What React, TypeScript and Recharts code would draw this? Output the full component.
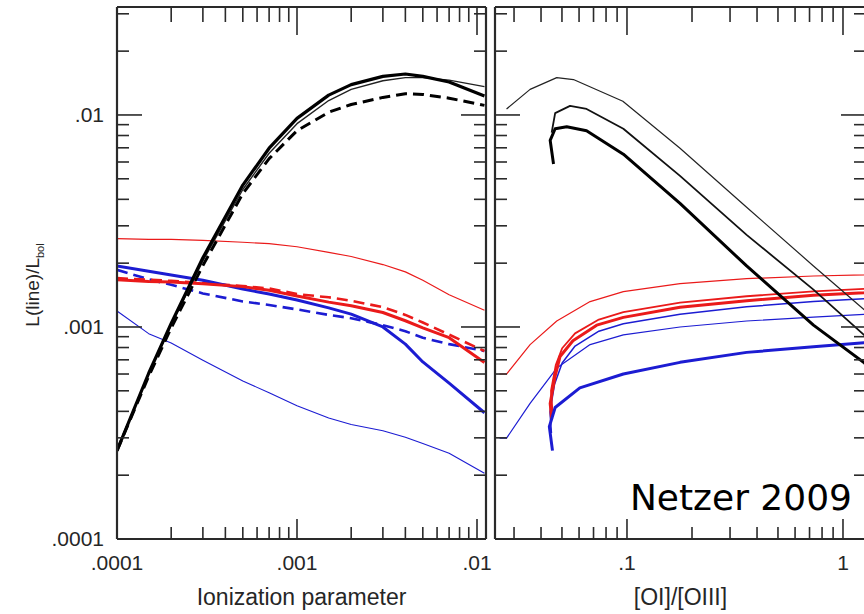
import React from 'react';
import { LineChart, Line, XAxis, YAxis } from 'recharts';

// ---------- Left panel: luminosity ratio vs ionization parameter ----------
const uValues = [1e-4, 1.5e-4, 2e-4, 3e-4, 5e-4, 7e-4, 1e-3, 1.5e-3, 2e-3, 3e-3, 4e-3, 5e-3, 7e-3, 1.1e-2];
const blackThickL = [2.61e-4, 6.05e-4, 1.04e-3, 2.12e-3, 4.67e-3, 6.97e-3, 9.64e-3, 1.24e-2, 1.39e-2, 1.52e-2, 1.56e-2, 1.52e-2, 1.43e-2, 1.23e-2];
const blackThinL = [2.65e-4, 6.0e-4, 1.02e-3, 2.05e-3, 4.45e-3, 6.6e-3, 9.1e-3, 1.17e-2, 1.32e-2, 1.45e-2, 1.5e-2, 1.5e-2, 1.46e-2, 1.36e-2];
const blackDashL = [2.61e-4, 5.86e-4, 9.9e-4, 1.95e-3, 4.26e-3, 6.22e-3, 8.43e-3, 1.03e-2, 1.12e-2, 1.21e-2, 1.26e-2, 1.25e-2, 1.2e-2, 1.11e-2];
const redThinL = [2.61e-3, 2.59e-3, 2.59e-3, 2.56e-3, 2.51e-3, 2.47e-3, 2.39e-3, 2.25e-3, 2.15e-3, 1.97e-3, 1.82e-3, 1.66e-3, 1.42e-3, 1.2e-3];
const redThickL = [1.67e-3, 1.64e-3, 1.63e-3, 1.6e-3, 1.55e-3, 1.49e-3, 1.4e-3, 1.31e-3, 1.26e-3, 1.17e-3, 1.07e-3, 9.9e-4, 8.9e-4, 6.8e-4];
const redDashL = [1.7e-3, 1.67e-3, 1.65e-3, 1.61e-3, 1.56e-3, 1.52e-3, 1.43e-3, 1.38e-3, 1.33e-3, 1.24e-3, 1.14e-3, 1.05e-3, 9.2e-4, 7.7e-4];
const blueThickL = [1.94e-3, 1.83e-3, 1.76e-3, 1.66e-3, 1.51e-3, 1.43e-3, 1.34e-3, 1.23e-3, 1.15e-3, 1.0e-3, 8.3e-4, 6.84e-4, 5.43e-4, 3.94e-4];
const blueDashL = [1.86e-3, 1.68e-3, 1.58e-3, 1.44e-3, 1.32e-3, 1.27e-3, 1.21e-3, 1.14e-3, 1.1e-3, 1.02e-3, 9.55e-4, 8.9e-4, 8.3e-4, 7.7e-4];
const blueThinL = [1.19e-3, 9.3e-4, 8.4e-4, 6.97e-4, 5.56e-4, 4.9e-4, 4.25e-4, 3.72e-4, 3.47e-4, 3.24e-4, 3.02e-4, 2.82e-4, 2.54e-4, 2.04e-4];

// ---------- Right panel: luminosity ratio vs [OI]/[OIII] ----------
const blackThinRx = [0.0277, 0.0356, 0.0473, 0.0565, 0.0957, 0.176, 0.358, 0.73, 1.25, 1.35];
const blackThinRy = [0.01067, 0.0132, 0.015, 0.01469, 0.01161, 0.00697, 0.00367, 0.00194, 0.00121, 0.00113];
const blackMedRx = [0.0448, 0.0465, 0.0545, 0.065, 0.0962, 0.176, 0.358, 0.73, 1.25, 1.35];
const blackMedRy = [0.00826, 0.0102, 0.01104, 0.01067, 0.00861, 0.00516, 0.00272, 0.0015, 0.000918, 0.000857];
const blackThickRx = [0.0457, 0.0441, 0.0465, 0.0526, 0.065, 0.0962, 0.176, 0.358, 0.73, 1.25, 1.35];
const blackThickRy = [0.00587, 0.00759, 0.00861, 0.00879, 0.00843, 0.00653, 0.00383, 0.00194, 0.00102, 0.00068, 0.00063];
const redThinRx = [0.0257, 0.0277, 0.0356, 0.0473, 0.0675, 0.0962, 0.176, 0.358, 0.73, 1.25, 1.35];
const redThinRy = [0.0006, 0.0006, 0.000826, 0.001067, 0.001318, 0.001469, 0.0016, 0.00169, 0.00174, 0.00176, 0.00177];
const blueThinRx = [0.0257, 0.0277, 0.0356, 0.0473, 0.0675, 0.0962, 0.176, 0.358, 0.73, 1.25, 1.35];
const blueThinRy = [0.000299, 0.000299, 0.000436, 0.00064, 0.000826, 0.000918, 0.001, 0.001067, 0.001112, 0.001146, 0.001148];
const redThickRx = [0.0448, 0.0441, 0.0465, 0.049, 0.0562, 0.0724, 0.0962, 0.176, 0.358, 0.73, 1.25, 1.35];
const redThickRy = [0.000367, 0.000436, 0.000587, 0.000726, 0.000861, 0.00102, 0.00111, 0.00124, 0.00133, 0.00141, 0.00145, 0.00146];
const redMedRx = [0.0452, 0.0445, 0.0468, 0.0501, 0.0575, 0.0741, 0.0962, 0.176, 0.358, 0.73, 1.25, 1.35];
const redMedRy = [0.000398, 0.000501, 0.000661, 0.000794, 0.000933, 0.001084, 0.001175, 0.001303, 0.001396, 0.001472, 0.001514, 0.00152];
const blueMedRx = [0.0447, 0.044, 0.0462, 0.0501, 0.0575, 0.0741, 0.0962, 0.176, 0.358, 0.73, 1.25, 1.35];
const blueMedRy = [0.000316, 0.000398, 0.000537, 0.000676, 0.000813, 0.000955, 0.001035, 0.001148, 0.001245, 0.001318, 0.001358, 0.001365];
const blueThickRx = [0.0452, 0.0437, 0.0465, 0.0605, 0.0962, 0.176, 0.358, 0.73, 1.25, 1.35];
const blueThickRy = [0.000261, 0.000339, 0.000417, 0.000516, 0.0006, 0.000681, 0.000759, 0.000807, 0.000843, 0.000849];

// ---------- Axes ----------
const yDomain: [number, number] = [1e-4, 0.0323];
const leftXDomain: [number, number] = [1e-4, 0.01122];
const rightXDomain: [number, number] = [0.02449, 1.278];
const yTicks = [1e-4, 2e-4, 3e-4, 4e-4, 5e-4, 6e-4, 7e-4, 8e-4, 9e-4, 1e-3, 2e-3, 3e-3, 4e-3, 5e-3, 6e-3, 7e-3, 8e-3, 9e-3, 1e-2, 2e-2, 3e-2];
const leftXTicks = [1e-4, 2e-4, 3e-4, 4e-4, 5e-4, 6e-4, 7e-4, 8e-4, 9e-4, 1e-3, 2e-3, 3e-3, 4e-3, 5e-3, 6e-3, 7e-3, 8e-3, 9e-3, 1e-2];
const rightXTicks = [0.03, 0.04, 0.05, 0.06, 0.07, 0.08, 0.09, 0.1, 0.2, 0.3, 0.4, 0.5, 0.6, 0.7, 0.8, 0.9, 1];
const yTickLabels = ['.0001', '.001', '.01'];
const leftXTickLabels = ['.0001', '.001', '.01'];
const rightXTickLabels = ['.1', '1'];

const zip = (xs: number[], ys: number[]) => xs.map((x, i) => ({ x, y: ys[i] }));

const FONT = '"Liberation Sans", Arial, sans-serif';
const AXIS_COLOR = '#2a2a2a';
const TEXT_COLOR = '#262626';
const RED = '#ea1a1a';
const BLUE = '#1c1cd2';

const isMajor = (v: number) => Math.abs(Math.log10(v) - Math.round(Math.log10(v))) < 1e-6;
const labelFor = (v: number, labels: string[]) => labels.find((l) => Math.abs(parseFloat(l) - v) < v * 1e-6);

type Side = 'bottom' | 'top' | 'left' | 'right';

const makeTick = (side: Side, labels: string[] | null, majorLen: number, minorLen: number) => (props: any) => {
  const { x, y, payload } = props;
  const v = payload.value as number;
  const major = isMajor(v);
  const len = major ? majorLen : minorLen;
  let x2 = x, y2 = y;
  if (side === 'bottom') y2 = y - len;
  if (side === 'top') y2 = y + len;
  if (side === 'left') x2 = x + len;
  if (side === 'right') x2 = x - len;
  const lab = labels && major ? labelFor(v, labels) : undefined;
  return (
    <g>
      <line x1={x} y1={y} x2={x2} y2={y2} stroke={AXIS_COLOR} strokeWidth={1.6} />
      {lab && side === 'bottom' && (
        <text x={x} y={y + 31} textAnchor="middle" fontFamily={FONT} fontSize={21} fill={TEXT_COLOR}>{lab}</text>
      )}
      {lab && side === 'left' && (
        <text x={x - 13} y={y + 7} textAnchor="end" fontFamily={FONT} fontSize={21} fill={TEXT_COLOR}>{lab}</text>
      )}
    </g>
  );
};

const XTitle = (text: string) => (props: any) => {
  const vb = props.viewBox || {};
  return (
    <text x={vb.x + vb.width / 2} y={vb.y + 66} textAnchor="middle" fontFamily={FONT} fontSize={23} fill={TEXT_COLOR}>{text}</text>
  );
};

const YTitle = (props: any) => {
  const vb = props.viewBox || {};
  const cx = vb.x - 77;
  const cy = vb.y + vb.height / 2 + 12;
  return (
    <text x={cx} y={cy} transform={`rotate(-90 ${cx} ${cy})`} textAnchor="middle" fontFamily={FONT} fontSize={19} fill={TEXT_COLOR}>
      L(line)/L<tspan fontSize={11} dy={5}>bol</tspan>
    </text>
  );
};

const Credit = (props: any) => {
  const vb = props.viewBox || {};
  return (
    <text x={vb.x - 14} y={vb.y + vb.height - 29} textAnchor="end" fontFamily='"DejaVu Sans", sans-serif' fontSize={36} fill="#000">Netzer 2009</text>
  );
};

const lineProps = { dot: false, activeDot: false, isAnimationActive: false, strokeLinejoin: 'round' as const, dataKey: 'y' };

const axisCommon = { type: 'number' as const, scale: 'log' as const, allowDataOverflow: true, tickSize: 0, tickMargin: 0, tickLine: false, interval: 0 as const, axisLine: { stroke: AXIS_COLOR, strokeWidth: 2.2 } };

export default function App() {
  return (
    <div style={{ position: 'absolute', left: 0, top: 0, width: 864, height: 614, overflow: 'hidden', background: '#fff' }}>
      <div style={{ position: 'absolute', left: 0, top: 0 }}>
        <LineChart width={864} height={614} margin={{ top: 6, left: 116, right: 377, bottom: 74 }}>
          <XAxis xAxisId="b" dataKey="x" orientation="bottom" height={1} domain={leftXDomain} ticks={leftXTicks} {...axisCommon} tick={makeTick('bottom', leftXTickLabels, 20, 12)} label={XTitle('Ionization parameter')} />
          <XAxis xAxisId="t" dataKey="x" orientation="top" height={1} domain={leftXDomain} ticks={leftXTicks} {...axisCommon} tick={makeTick('top', null, 28, 15)} />
          <YAxis yAxisId="l" dataKey="y" orientation="left" width={1} domain={yDomain} ticks={yTicks} {...axisCommon} tick={makeTick('left', yTickLabels, 25, 12)} label={YTitle} />
          <YAxis yAxisId="r" dataKey="y" orientation="right" width={1} domain={yDomain} ticks={yTicks} {...axisCommon} tick={makeTick('right', null, 25, 12)} />
          <Line xAxisId="b" yAxisId="l" data={zip(uValues, blueThinL)} stroke={BLUE} strokeWidth={1.1} {...lineProps} />
          <Line xAxisId="b" yAxisId="l" data={zip(uValues, redThinL)} stroke={RED} strokeWidth={1.2} {...lineProps} />
          <Line xAxisId="b" yAxisId="l" data={zip(uValues, blueDashL)} stroke={BLUE} strokeWidth={2.6} strokeDasharray="11 6" {...lineProps} />
          <Line xAxisId="b" yAxisId="l" data={zip(uValues, redDashL)} stroke={RED} strokeWidth={2.6} strokeDasharray="11 6" {...lineProps} />
          <Line xAxisId="b" yAxisId="l" data={zip(uValues, blueThickL)} stroke={BLUE} strokeWidth={3} {...lineProps} />
          <Line xAxisId="b" yAxisId="l" data={zip(uValues, redThickL)} stroke={RED} strokeWidth={3} {...lineProps} />
          <Line xAxisId="b" yAxisId="l" data={zip(uValues, blackDashL)} stroke="#000" strokeWidth={3} strokeDasharray="11 6" {...lineProps} />
          <Line xAxisId="b" yAxisId="l" data={zip(uValues, blackThinL)} stroke="#222" strokeWidth={1.4} {...lineProps} />
          <Line xAxisId="b" yAxisId="l" data={zip(uValues, blackThickL)} stroke="#000" strokeWidth={3.2} {...lineProps} />
        </LineChart>
      </div>
      <div style={{ position: 'absolute', left: 0, top: 0 }}>
        <LineChart width={870} height={614} margin={{ top: 6, left: 494, right: 3, bottom: 74 }}>
          <XAxis xAxisId="b" dataKey="x" orientation="bottom" height={1} domain={rightXDomain} ticks={rightXTicks} {...axisCommon} tick={makeTick('bottom', rightXTickLabels, 20, 12)} label={XTitle('[OI]/[OIII]')} />
          <XAxis xAxisId="t" dataKey="x" orientation="top" height={1} domain={rightXDomain} ticks={rightXTicks} {...axisCommon} tick={makeTick('top', null, 28, 15)} />
          <YAxis yAxisId="l" dataKey="y" orientation="left" width={1} domain={yDomain} ticks={yTicks} {...axisCommon} tick={makeTick('left', null, 25, 12)} />
          <YAxis yAxisId="r" dataKey="y" orientation="right" width={1} domain={yDomain} ticks={yTicks} {...axisCommon} tick={makeTick('right', null, 25, 12)} label={Credit} />
          <Line xAxisId="b" yAxisId="l" data={zip(redThinRx, redThinRy)} stroke={RED} strokeWidth={1.2} {...lineProps} />
          <Line xAxisId="b" yAxisId="l" data={zip(blueThinRx, blueThinRy)} stroke={BLUE} strokeWidth={1.2} {...lineProps} />
          <Line xAxisId="b" yAxisId="l" data={zip(blueMedRx, blueMedRy)} stroke={BLUE} strokeWidth={1.5} {...lineProps} />
          <Line xAxisId="b" yAxisId="l" data={zip(redMedRx, redMedRy)} stroke={RED} strokeWidth={1.8} {...lineProps} />
          <Line xAxisId="b" yAxisId="l" data={zip(redThickRx, redThickRy)} stroke={RED} strokeWidth={3} {...lineProps} />
          <Line xAxisId="b" yAxisId="l" data={zip(blueThickRx, blueThickRy)} stroke={BLUE} strokeWidth={3} {...lineProps} />
          <Line xAxisId="b" yAxisId="l" data={zip(blackThinRx, blackThinRy)} stroke="#222" strokeWidth={1.2} {...lineProps} />
          <Line xAxisId="b" yAxisId="l" data={zip(blackMedRx, blackMedRy)} stroke="#111" strokeWidth={1.8} {...lineProps} />
          <Line xAxisId="b" yAxisId="l" data={zip(blackThickRx, blackThickRy)} stroke="#000" strokeWidth={3} {...lineProps} />
        </LineChart>
      </div>
    </div>
  );
}
